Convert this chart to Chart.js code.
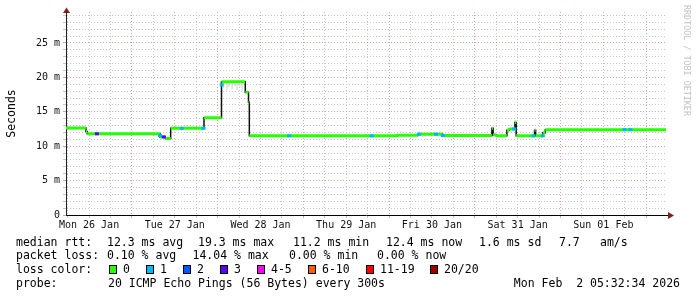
<!DOCTYPE html>
<html>
<head>
<meta charset="utf-8">
<script src="https://cdn.jsdelivr.net/npm/chart.js@4/dist/chart.umd.min.js"></script>
<style>
html, body { margin: 0; padding: 0; background: #fff; }
</style>
</head>
<body>
<canvas id="chart" width="697" height="297"></canvas>
<script>
// x values are hours since Mon 26 Jan 05:32:34 (7 day graph)
const endHour = 168;
const firstNoon = 6.457;      // Mon 26 Jan 12:00
const firstMidnight = 18.457; // Tue 27 Jan 00:00

// median rtt (ms), one value per step start
const stepHours = [0, 5.58, 5.94, 26.31, 27.8, 29.31, 38.64, 43.54, 50.2, 51.1, 51.33, 92.7, 98.7, 105.5,
  119.25, 119.6, 120.46, 123.45, 124.1, 125.7, 126.05, 131.2, 131.5, 133.5, 134.2];
const stepRtt = [12.65, 12.15, 11.8, 11.35, 11.1, 12.6, 14.15, 19.35, 17.85, 16.4, 11.5, 11.6, 11.75, 11.55,
  12.6, 11.65, 11.5, 12.3, 12.5, 13.45, 11.5, 12.3, 11.5, 11.95, 12.4];

// samples with some packet loss (loss colour index)
const lossHours = [8.66, 26.3, 27.4, 32.4, 38.5, 43.6, 62.5, 85.6, 98.8, 103.6, 105.5, 125.5, 130.9, 133.5, 156.4, 158.0];
const lossRtt = [11.8, 11.55, 11.35, 12.6, 12.6, 18.9, 11.5, 11.5, 11.75, 11.75, 11.55, 12.5, 11.5, 11.5, 12.4, 12.4];
const lossLevel = [3, 1, 3, 1, 1, 1, 1, 1, 1, 1, 1, 1, 1, 1, 1, 1];

// smoke (spread of the pings)
const smokeHours = [8.66, 44.2, 45.1, 45.6, 46.5, 47.3, 47.9, 48.7, 49.3, 98.9, 125.8];
const smokeLow = [11.8, 18.4, 18.1, 18.6, 18.3, 18.7, 18.2, 18.5, 18.0, 11.75, 13.45];
const smokeHigh = [12.3, 19.2, 19.3, 19.2, 19.4, 19.2, 19.3, 19.2, 19.3, 12.2, 13.8];

const dayLabels = ['Mon 26 Jan', 'Tue 27 Jan', 'Wed 28 Jan', 'Thu 29 Jan', 'Fri 30 Jan', 'Sat 31 Jan', 'Sun 01 Feb'];
const yTickLabels = ['0', '5 m', '10 m', '15 m', '20 m', '25 m'];

const rttStats = ['median rtt:', '12.3 ms avg', '19.3 ms max', '11.2 ms min', '12.4 ms now', '1.6 ms sd', '7.7', 'am/s'];
const lossStats = ['packet loss:', '0.10 % avg', '14.04 % max', '0.00 % min', '0.00 % now'];
const lossColorLabels = ['0', '1', '2', '3', '4-5', '6-10', '11-19', '20/20'];
const lossColors = ['#26ff00', '#00b8ff', '#0059ff', '#5e00ff', '#ff00fe', '#ff5e00', '#ff0000', '#a10000'];
const probeText = ['probe:', '20 ICMP Echo Pings (56 Bytes) every 300s'];
const dateText = 'Mon Feb  2 05:32:34 2026';
const watermark = 'RRDTOOL / TOBI OETIKER';
const yTitle = 'Seconds';

// layout of the legend block
const rttX = [16, 107, 198, 293, 386, 479, 559, 600];
const lossX = [16, 107, 192.5, 289, 377];
const swatchX = [109, 146, 183, 220, 257, 308, 366, 430];
const rowBase = [245.5, 259.3, 273, 286.7];

const GRID = '#c6c6c6';
const MGRID = '#eb9a9a';
const MONO = '"DejaVu Sans Mono", monospace';

// black median line (stepped)
const medianPts = stepHours.map((h, i) => ({ x: h, y: stepRtt[i] }));
medianPts.push({ x: endHour, y: stepRtt[stepRtt.length - 1] });

// green horizontal pieces (0 loss)
const greenPts = [];
stepHours.forEach((h, i) => {
	const end = i + 1 < stepHours.length ? stepHours[i + 1] : endHour;
	greenPts.push({ x: h, y: stepRtt[i] }, { x: end, y: stepRtt[i] }, { x: end, y: null });
});

const smokePts = [];
smokeHours.forEach((h, i) => {
	smokePts.push({ x: h, y: smokeLow[i] }, { x: h, y: smokeHigh[i] }, { x: h, y: null });
});

const lossPts = lossHours.map((h, i) => ({ x: h, y: lossRtt[i] }));

function isMidnight(v) {
	const d = (v - firstMidnight) / 24;
	return Math.abs(d - Math.round(d)) < 0.01;
}

const decorations = {
	id: "decorations",
	afterDraw(chart) {
		const { ctx, chartArea: a } = chart;
		ctx.save();

		// axis extension and arrows
		ctx.strokeStyle = '#000';
		ctx.lineWidth = 1;
		ctx.beginPath();
		ctx.moveTo(a.right, a.bottom + 0.5);
		ctx.lineTo(669, a.bottom + 0.5);
		ctx.stroke();
		ctx.fillStyle = '#801f1f';
		ctx.beginPath();
		ctx.moveTo(a.left - 3, 13);
		ctx.lineTo(a.left + 4, 13);
		ctx.lineTo(a.left + 0.5, 7.5);
		ctx.fill();
		ctx.beginPath();
		ctx.moveTo(668, a.bottom - 3);
		ctx.lineTo(668, a.bottom + 4);
		ctx.lineTo(674, a.bottom + 0.5);
		ctx.fill();

		// y title
		ctx.fillStyle = '#000';
		ctx.font = '11.5px ' + MONO;
		ctx.save();
		ctx.translate(15, 113.5);
		ctx.rotate(-Math.PI / 2);
		ctx.textAlign = 'center';
		ctx.fillText(yTitle, 0, 0);
		ctx.restore();

		// watermark
		ctx.save();
		ctx.fillStyle = '#c2c2c2';
		ctx.font = '8.4px ' + MONO;
		ctx.translate(684, 5);
		ctx.rotate(Math.PI / 2);
		ctx.textAlign = 'left';
		ctx.fillText(watermark, 0, 0);
		ctx.restore();

		// legend rows
		ctx.font = '11.5px ' + MONO;
		ctx.textAlign = 'left';
		ctx.textBaseline = 'alphabetic';
		rttStats.forEach((t, i) => ctx.fillText(t, rttX[i], rowBase[0]));
		lossStats.forEach((t, i) => ctx.fillText(t, lossX[i], rowBase[1]));
		ctx.fillText('loss color:', 16, rowBase[2]);
		lossColorLabels.forEach((t, i) => {
			ctx.fillStyle = lossColors[i];
			ctx.fillRect(swatchX[i], rowBase[2] - 8, 7, 8);
			ctx.strokeStyle = '#000';
			ctx.strokeRect(swatchX[i] + 0.5, rowBase[2] - 7.5, 7, 8);
			ctx.fillStyle = '#000';
			ctx.fillText(t, swatchX[i] + 14, rowBase[2]);
		});
		ctx.fillText(probeText[0], 16, rowBase[3]);
		ctx.fillText(probeText[1], 108, rowBase[3]);
		ctx.textAlign = 'right';
		ctx.fillText(dateText, 680, rowBase[3]);
		ctx.restore();
	},
};

const config = {
	type: "line",
	data: {
		datasets: [
			{
				label: "loss",
				data: lossPts,
				showLine: false,
				pointStyle: "line",
				pointRadius: 2,
				pointHoverRadius: 2,
				pointBorderWidth: 3,
				pointBorderColor: lossLevel.map((l) => lossColors[l]),
				order: 0,
			},
			{
				label: "median",
				data: greenPts,
				borderColor: lossColors[0],
				borderWidth: 3,
				borderCapStyle: "butt",
				spanGaps: false,
				pointRadius: 0,
				order: 1,
			},
			{
				label: "median line",
				data: medianPts,
				borderColor: "#111",
				borderWidth: 1.5,
				stepped: true,
				pointRadius: 0,
				order: 2,
			},
			{
				label: "smoke",
				data: smokePts,
				borderColor: "#cfcfcf",
				borderWidth: 1,
				spanGaps: false,
				pointRadius: 0,
				order: 3,
			},
		],
	},
	options: {
		responsive: false,
		animation: false,
		devicePixelRatio: 1,
		layout: { padding: { left: 0, right: 31, top: 12, bottom: 62 } },
		plugins: {
			legend: { display: false },
			tooltip: { enabled: false },
		},
		scales: {
			x: {
				type: "linear",
				min: 0,
				max: endHour,
				offset: false,
				afterFit: (s) => { s.height = 20; },
				afterBuildTicks: (s) => {
					const t = [];
					const h0 = firstMidnight - 18;
					for (let k = 0; h0 + 6 * k <= endHour; k++) t.push({ value: h0 + 6 * k });
					s.ticks = t;
				},
				ticks: {
					autoSkip: false,
					maxRotation: 0,
					minRotation: 0,
					padding: 1,
					color: "#111",
					font: { family: MONO, size: 10 },
					callback: (v) => {
						const k = (v - firstNoon) / 24;
						return Math.abs(k - Math.round(k)) < 0.01 ? dayLabels[Math.round(k)] || "" : "";
					},
				},
				grid: {
					color: (c) => (c.tick && isMidnight(c.tick.value) ? MGRID : GRID),
					tickLength: 3,
					tickBorderDash: [],
				},
				border: { color: "#000", width: 1, dash: [1, 2] },
			},
			y: {
				min: 0,
				max: 29.5,
				afterFit: (s) => { s.width = 66; },
				afterBuildTicks: (s) => {
					const t = [];
					for (let v = 0; v <= 29; v++) t.push({ value: v });
					s.ticks = t;
				},
				ticks: {
					autoSkip: false,
					padding: 3,
					color: "#111",
					font: { family: MONO, size: 10 },
					callback: (v) => (v % 5 === 0 ? yTickLabels[v / 5] : ""),
				},
				grid: {
					color: (c) => (c.tick && c.tick.value % 5 === 0 ? MGRID : GRID),
					tickLength: 3,
					tickBorderDash: [],
				},
				border: { color: "#222", width: 1, dash: [1, 2] },
			},
		},
	},
	plugins: [decorations],
};

const rrd_graph = new Chart(document.getElementById("chart"), config);
</script>
</body>
</html>
